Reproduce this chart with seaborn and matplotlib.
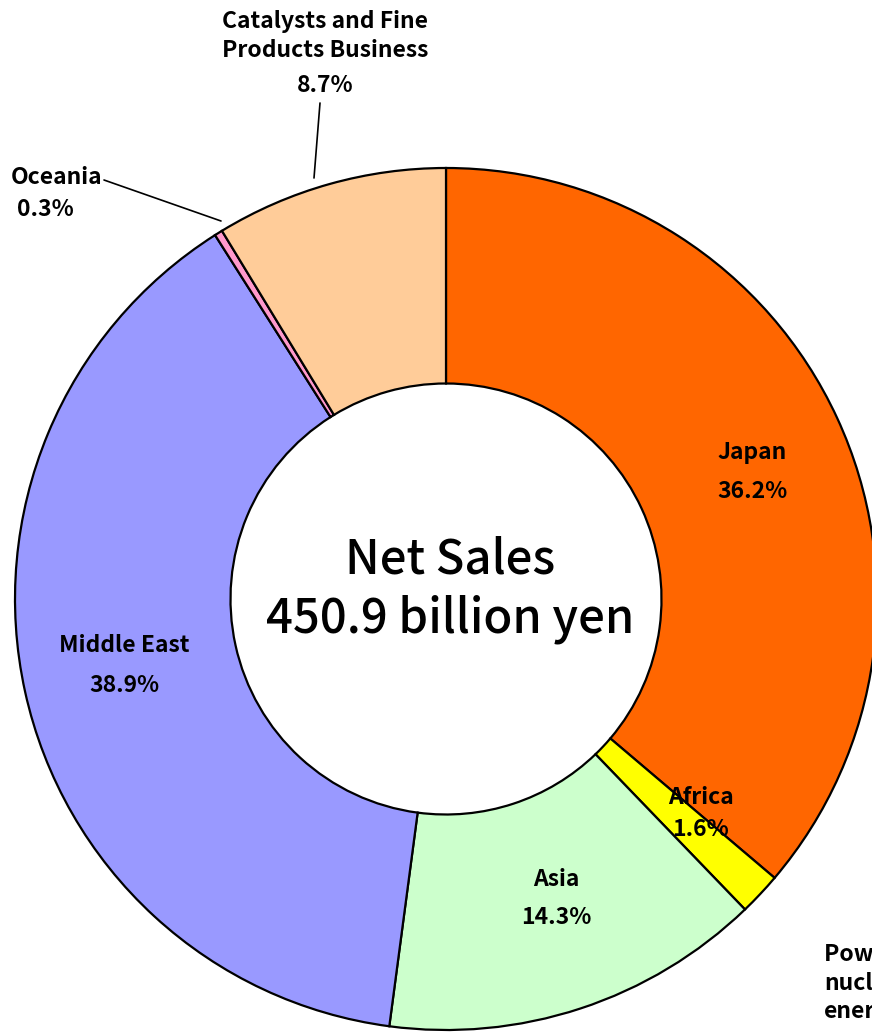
import matplotlib
matplotlib.use("Agg")
from matplotlib import pyplot as plt
import seaborn as sns

# region shares of net sales (clockwise from the top)
regions = ['Japan', 'Africa', 'Asia', 'Middle East', 'Oceania', 'Catalysts and Fine\nProducts Business']
shares = [36.2, 1.6, 14.3, 38.9, 0.3, 8.7]
slice_colors = ['#FF6600', '#FFFF00', '#CCFFCC', '#9999FF', '#FF99CC', '#FFCC99']
center_text = 'Net Sales\n450.9 billion yen'

sns.set_style('white')
plt.rcParams['font.family'] = ['Noto Sans CJK JP', 'DejaVu Sans']

W, H = 872, 1032
cx, cy, R = 446, 599, 431  # pixel centre and radius of the ring

fig = plt.figure(figsize=(W / 100, H / 100), dpi=100)
ax = fig.add_axes([0, 0, 1, 1])
ax.pie(shares, colors=slice_colors, startangle=90, counterclock=False,
       radius=1.0, wedgeprops=dict(width=0.5, edgecolor='black', linewidth=1.6))
ax.set_xlim(-cx / R, (W - cx) / R)
ax.set_ylim(-(H - cy) / R, cy / R)
ax.set_aspect('equal')
ax.axis('off')


def px(x, y):
    # pixel position (origin top-left) -> data coords
    return (x - cx) / R, (cy - y) / R


def label(x, y, txt, size=16.5, ha='center', ls=1.2):
    ax.text(*px(x, y), txt, ha=ha, va='center', fontsize=size, fontweight='bold',
            color='black', linespacing=ls)


label(752, 452, regions[0])
label(752, 491, f'{shares[0]}%')
label(701, 798, regions[1])
label(700, 829, f'{shares[1]}%')
label(556, 880, regions[2])
label(556, 918, f'{shares[2]}%')
label(124, 646, regions[3])
label(124, 686, f'{shares[3]}%')
label(57, 177, regions[4])
label(45, 210, f'{shares[4]}%')
label(325, 36, regions[5], ls=1.3)
label(325, 86, f'{shares[5]}%')
# this label runs off the right edge in the original too
label(824, 983, 'Power and\nnuclear\nenergy-related', ha='left', ls=1.3)

# leader lines
ax.plot(*zip(px(104, 180), px(221, 221)), color='black', lw=1.2)
ax.plot(*zip(px(320, 103), px(314, 178)), color='black', lw=1.2)

ax.text(*px(450, 590), center_text, ha='center', va='center', fontsize=34,
        fontweight='medium', color='black', linespacing=1.25)

fig.savefig('out.png', dpi=100)
